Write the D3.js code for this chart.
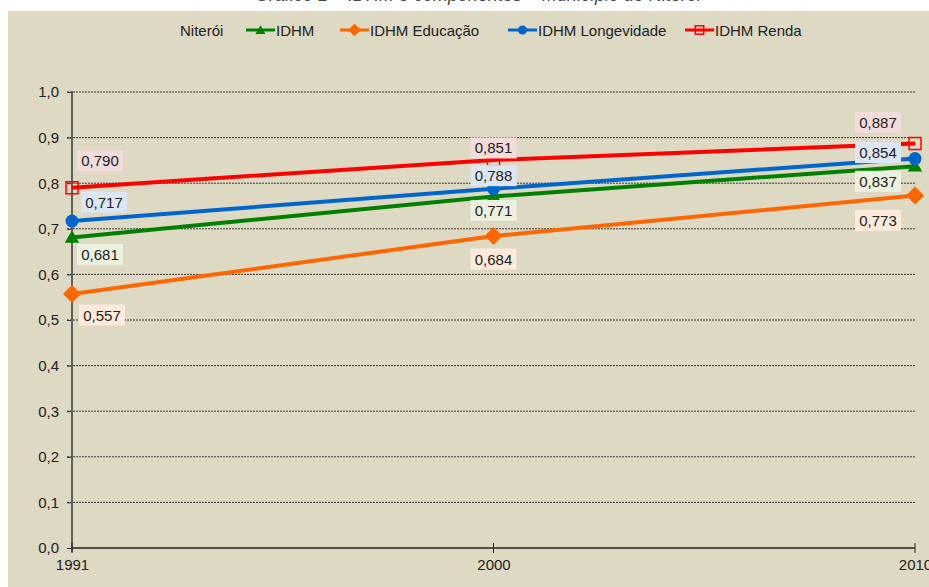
<!DOCTYPE html>
<html><head><meta charset="utf-8">
<script src="https://cdn.jsdelivr.net/npm/d3@7"></script>
<style>body{margin:0;background:#fff}svg{display:block}</style>
</head><body>
<svg id="c" width="929" height="587"></svg>
<script>
const years = ["1991", "2000", "2010"];
const seriesNames = ["IDHM", "IDHM Educação", "IDHM Longevidade", "IDHM Renda"];
const idhm = [0.681, 0.771, 0.837];
const educacao = [0.557, 0.684, 0.773];
const longevidade = [0.717, 0.788, 0.854];
const renda = [0.790, 0.851, 0.887];
const yTicks = [0, 0.1, 0.2, 0.3, 0.4, 0.5, 0.6, 0.7, 0.8, 0.9, 1.0];
const legendTitle = "Niterói";
const title = "Gráfico 1 – IDHM e componentes – Município de Niterói";

const seriesValues = [idhm, educacao, longevidade, renda];
const colors = ["#008000", "#ff6600", "#0066cc", "#ff0000"];
const labelFills = ["#ebf1de", "#fdeada", "#dce6f2", "#f2dcdb"];
const markers = ["triangle", "diamond", "circle", "square"];
// label offsets (dx, dy) relative to point
const labelOffsets = [
  [[28, 17], [0, 14], [-37, 15]],
  [[30, 21], [0, 23], [-37, 25]],
  [[32, -19], [0, -13], [-37, -6]],
  [[28, -27], [0, -12], [-37, -21]]
];

const svg = d3.select("#c");
const fmt = v => d3.format(".3f")(v).replace(".", ",");
const fmt1 = v => d3.format(".1f")(v).replace(".", ",");
const font = "'Liberation Sans', Arial, sans-serif";

// background panel
svg.append("rect").attr("x", 8).attr("y", 11).attr("width", 921).attr("height", 576).attr("fill", "#ddd9c3");
// cut-off title
svg.append("text").attr("x", 478).attr("y", 1).attr("text-anchor", "middle")
  .attr("font-family", font).attr("font-size", 18).attr("font-style", "italic").attr("fill", "#444").text(title);

const x = d3.scalePoint().domain(years).range([72, 915]);
const y = d3.scaleLinear().domain([0, 1]).range([548, 92]);

// gridlines
svg.append("g").selectAll("line").data(yTicks.filter(t => t > 0)).join("line")
  .attr("x1", 67).attr("x2", 915).attr("y1", d => y(d)).attr("y2", d => y(d))
  .attr("stroke", "#333").attr("stroke-width", 1).attr("stroke-dasharray", "2,1");

// y axis
const yAxis = svg.append("g").attr("transform", "translate(72,0)")
  .call(d3.axisLeft(y).tickValues(yTicks).tickFormat(fmt1).tickSize(5).tickPadding(8));
yAxis.select(".domain").remove();
yAxis.selectAll(".tick line").attr("stroke", "#333");
yAxis.selectAll("text").attr("font-family", font).attr("font-size", 15).attr("fill", "#222");
svg.append("line").attr("x1", 72).attr("x2", 72).attr("y1", 91).attr("y2", 552)
  .attr("stroke", "#5f5f5f").attr("stroke-width", 2);

// x axis
const xAxis = svg.append("g").attr("transform", "translate(0,548)")
  .call(d3.axisBottom(x).tickSize(0).tickPadding(11));
xAxis.select(".domain").attr("d", "M72,0H915").attr("stroke", "#222").attr("stroke-width", 1.5);
xAxis.selectAll("text").attr("font-family", font).attr("font-size", 15).attr("fill", "#222");
svg.append("g").selectAll("line").data(years).join("line")
  .attr("x1", d => x(d)).attr("x2", d => x(d)).attr("y1", 543).attr("y2", 553)
  .attr("stroke", "#222").attr("stroke-width", 1);

function drawMarker(g, type, cx, cy, color, scale) {
  const s = scale || 1;
  if (type === "triangle") {
    g.append("path").attr("d", d3.symbol().type(d3.symbolTriangle).size(90 * s * s)())
      .attr("transform", `translate(${cx},${cy + 1})`).attr("fill", color);
  } else if (type === "diamond") {
    const r = 9 * s;
    g.append("path").attr("d", `M${cx},${cy - r}L${cx + r},${cy}L${cx},${cy + r}L${cx - r},${cy}Z`).attr("fill", color);
  } else if (type === "circle") {
    g.append("circle").attr("cx", cx).attr("cy", cy).attr("r", 6.5 * s).attr("fill", color);
  } else {
    const h = 6 * s;
    g.append("rect").attr("x", cx - h).attr("y", cy - h).attr("width", 2 * h).attr("height", 2 * h)
      .attr("fill", "none").attr("stroke", color).attr("stroke-width", 1.5);
  }
}

const line = d3.line().x((d, i) => x(years[i])).y(d => y(d));
const linesG = svg.append("g");
seriesValues.forEach((vals, si) => {
  linesG.append("path").attr("d", line(vals)).attr("fill", "none")
    .attr("stroke", colors[si]).attr("stroke-width", 4);
});
seriesValues.forEach((vals, si) => {
  vals.forEach((v, i) => drawMarker(linesG, markers[si], x(years[i]), y(v), colors[si]));
});

// labels
const labG = svg.append("g");
seriesValues.forEach((vals, si) => {
  vals.forEach((v, i) => {
    const cx = x(years[i]) + labelOffsets[si][i][0];
    const cy = y(v) + labelOffsets[si][i][1];
    labG.append("rect").attr("x", cx - 23).attr("y", cy - 10.5).attr("width", 46).attr("height", 21)
      .attr("fill", labelFills[si]);
    labG.append("text").attr("x", cx).attr("y", cy + 5.5).attr("text-anchor", "middle")
      .attr("font-family", font).attr("font-size", 15).attr("fill", "#222").text(fmt(v));
  });
});

// legend
const leg = svg.append("g").attr("font-family", font).attr("font-size", 15).attr("fill", "#222");
leg.append("text").attr("x", 180).attr("y", 36).text(legendTitle);
const legX = [246, 340, 508, 685];
seriesNames.forEach((n, si) => {
  const lx = legX[si];
  leg.append("line").attr("x1", lx).attr("x2", lx + 29).attr("y1", 30).attr("y2", 30)
    .attr("stroke", colors[si]).attr("stroke-width", 3);
  drawMarker(leg, markers[si], lx + 14.5, 30, colors[si], 0.7);
  leg.append("text").attr("x", lx + 30).attr("y", 36).text(n);
});
</script>
</body></html>
